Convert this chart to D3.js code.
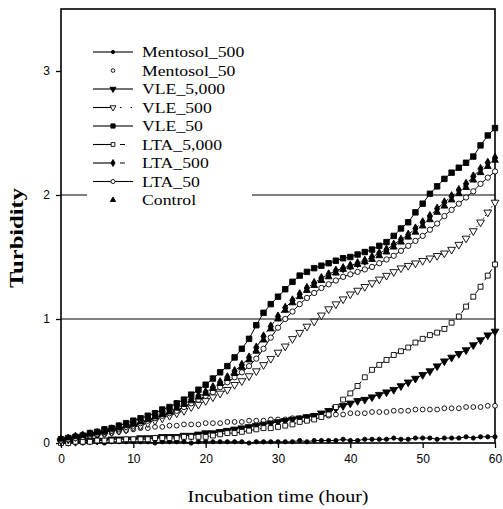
<!DOCTYPE html>
<html>
<head>
<meta charset="utf-8">
<script src="https://cdn.jsdelivr.net/npm/d3@7"></script>
<style>
  body { margin: 0; background: #fff; }
  svg { display: block; }
</style>
</head>
<body>
<svg width="503" height="509"></svg>
<script>
// incubation time, hours (one reading per hour)
var hours = d3.range(0, 61);

// turbidity readings
var mentosol500 = [
  0.00,0.01,0.01,0.00,0.01,0.01,0.00,0.01,0.01,0.01,0.01,
  0.01,0.01,0.00,0.01,0.01,0.01,0.01,0.00,0.01,0.01,
  0.01,0.01,0.01,0.01,0.01,0.00,0.01,0.01,0.01,0.01,
  0.01,0.01,0.02,0.01,0.02,0.02,0.02,0.02,0.03,0.02,
  0.02,0.03,0.03,0.03,0.03,0.04,0.03,0.03,0.04,0.04,
  0.04,0.03,0.04,0.04,0.04,0.05,0.04,0.05,0.05,0.05];
var mentosol50 = [
  0.02,0.03,0.04,0.05,0.05,0.06,0.07,0.08,0.09,0.10,0.11,
  0.12,0.12,0.13,0.13,0.14,0.14,0.15,0.15,0.15,0.16,
  0.16,0.16,0.17,0.17,0.17,0.18,0.18,0.18,0.19,0.19,
  0.19,0.20,0.20,0.21,0.21,0.22,0.22,0.23,0.23,0.24,
  0.24,0.24,0.25,0.25,0.25,0.26,0.26,0.26,0.27,0.27,
  0.27,0.27,0.28,0.28,0.28,0.29,0.29,0.29,0.30,0.30];
var vle5000 = [
  0.01,0.01,0.01,0.02,0.02,0.02,0.02,0.03,0.03,0.03,0.03,
  0.04,0.04,0.04,0.05,0.05,0.05,0.06,0.06,0.07,0.08,
  0.08,0.09,0.10,0.11,0.12,0.13,0.14,0.15,0.16,0.17,
  0.18,0.19,0.20,0.21,0.22,0.24,0.26,0.28,0.30,0.32,
  0.34,0.35,0.37,0.39,0.41,0.43,0.46,0.49,0.52,0.55,
  0.58,0.62,0.66,0.69,0.72,0.75,0.79,0.83,0.87,0.90];
var vle500 = [
  0.02,0.03,0.04,0.05,0.06,0.07,0.08,0.09,0.10,0.11,0.13,
  0.14,0.16,0.18,0.20,0.22,0.24,0.26,0.29,0.31,0.34,
  0.37,0.40,0.43,0.47,0.50,0.54,0.58,0.63,0.68,0.73,
  0.78,0.84,0.89,0.94,0.98,1.03,1.08,1.12,1.16,1.20,
  1.23,1.26,1.29,1.32,1.35,1.38,1.41,1.43,1.45,1.47,
  1.49,1.51,1.53,1.56,1.60,1.65,1.71,1.78,1.86,1.94];
var vle50 = [
  0.03,0.04,0.05,0.06,0.08,0.09,0.11,0.12,0.14,0.16,0.18,
  0.20,0.22,0.24,0.27,0.29,0.32,0.35,0.39,0.43,0.47,
  0.52,0.57,0.62,0.69,0.76,0.84,0.95,1.05,1.12,1.18,
  1.24,1.30,1.35,1.38,1.41,1.43,1.45,1.47,1.49,1.50,
  1.52,1.54,1.56,1.59,1.62,1.67,1.73,1.78,1.86,1.93,
  2.01,2.07,2.13,2.18,2.22,2.26,2.31,2.40,2.48,2.54];
var lta5000 = [
  0.00,0.00,0.01,0.01,0.01,0.02,0.02,0.02,0.02,0.03,0.03,
  0.03,0.03,0.04,0.04,0.04,0.04,0.05,0.05,0.05,0.05,
  0.06,0.07,0.08,0.08,0.09,0.10,0.11,0.12,0.12,0.13,
  0.14,0.15,0.17,0.18,0.19,0.21,0.23,0.29,0.35,0.40,
  0.46,0.53,0.59,0.63,0.67,0.71,0.74,0.77,0.81,0.84,
  0.87,0.89,0.92,0.97,1.02,1.10,1.18,1.26,1.35,1.44];
var lta500 = [
  0.02,0.03,0.05,0.06,0.07,0.08,0.10,0.11,0.13,0.14,0.16,
  0.18,0.20,0.22,0.24,0.26,0.29,0.32,0.35,0.38,0.41,
  0.45,0.49,0.53,0.58,0.63,0.69,0.77,0.86,0.94,1.02,
  1.09,1.15,1.20,1.25,1.29,1.33,1.36,1.39,1.41,1.43,
  1.45,1.47,1.50,1.53,1.56,1.60,1.64,1.68,1.73,1.78,
  1.83,1.89,1.94,1.99,2.04,2.09,2.15,2.21,2.26,2.30];
var lta50 = [
  0.02,0.03,0.04,0.05,0.06,0.07,0.09,0.10,0.11,0.13,0.14,
  0.16,0.18,0.20,0.22,0.24,0.26,0.29,0.32,0.35,0.38,
  0.41,0.45,0.49,0.53,0.57,0.62,0.68,0.76,0.85,0.93,
  1.00,1.06,1.12,1.17,1.21,1.25,1.28,1.31,1.34,1.36,
  1.38,1.40,1.42,1.45,1.48,1.51,1.55,1.59,1.63,1.67,
  1.72,1.77,1.83,1.88,1.93,1.98,2.03,2.09,2.14,2.19];
var control = [
  0.03,0.04,0.05,0.06,0.07,0.08,0.09,0.11,0.12,0.14,0.15,
  0.17,0.19,0.21,0.23,0.25,0.28,0.31,0.34,0.37,0.40,
  0.44,0.48,0.52,0.56,0.61,0.67,0.74,0.83,0.92,1.00,
  1.07,1.13,1.18,1.23,1.27,1.31,1.34,1.37,1.40,1.42,
  1.44,1.46,1.48,1.51,1.54,1.58,1.62,1.66,1.70,1.75,
  1.80,1.86,1.91,1.96,2.01,2.06,2.12,2.18,2.23,2.28];

var seriesNames = ['Mentosol_500', 'Mentosol_50', 'VLE_5,000', 'VLE_500', 'VLE_50',
                   'LTA_5,000', 'LTA_500', 'LTA_50', 'Control'];
var seriesValues = [mentosol500, mentosol50, vle5000, vle500, vle50,
                    lta5000, lta500, lta50, control];
var xTicks = [0, 10, 20, 30, 40, 50, 60];
var yTicks = [0, 1, 2, 3];
var gridValues = [1, 2];

// drawing style per series: marker shape, filled or not, line dash (null = no line)
var styles = [
  { shape: d3.symbolCircle,   size: 14, fill: true,  line: '' },
  { shape: d3.symbolCircle,   size: 18, fill: false, line: null },
  { shape: d3.symbolTriangle, size: 26, fill: true,  line: '', flip: true },
  { shape: d3.symbolTriangle, size: 26, fill: false, line: '1.5,2', flip: true },
  { shape: d3.symbolSquare,   size: 30, fill: true,  line: '' },
  { shape: d3.symbolSquare,   size: 24, fill: false, line: '5,3' },
  { shape: d3.symbolDiamond,  size: 24, fill: true,  line: '5,3' },
  { shape: d3.symbolCircle,   size: 22, fill: false, line: '' },
  { shape: d3.symbolTriangle, size: 20, fill: true,  line: null }
];

var svg = d3.select('svg');
var x = d3.scaleLinear().domain([0, 60]).range([61, 495]);
var y = d3.scaleLinear().domain([0, 3.5]).range([443, 9]);

// gridlines
svg.selectAll('line.grid')
  .data(gridValues)
  .enter().append('line')
  .attr('class', 'grid')
  .attr('x1', x(0)).attr('x2', x(60))
  .attr('y1', d => y(d)).attr('y2', d => y(d))
  .attr('stroke', '#000').attr('stroke-width', 1.2);

// axes
var yAxis = svg.append('g')
  .attr('transform', 'translate(' + x(0) + ',0)')
  .call(d3.axisLeft(y).tickValues(yTicks).tickSize(5).tickPadding(6).tickFormat(d3.format('d')));
var xAxis = svg.append('g')
  .attr('transform', 'translate(0,' + y(0) + ')')
  .call(d3.axisBottom(x).tickValues(xTicks).tickSize(5).tickPadding(6).tickFormat(d3.format('d')));
[yAxis, xAxis].forEach(function(g) {
  g.select('.domain').remove();
  g.selectAll('line').attr('stroke-width', 1.3);
  g.selectAll('text')
    .attr('font-family', 'Liberation Sans, Arial, sans-serif')
    .attr('font-size', 12)
    .attr('fill', '#000');
});

// plot frame
svg.append('rect')
  .attr('x', x(0)).attr('y', y(3.5))
  .attr('width', x(60) - x(0)).attr('height', y(0) - y(3.5))
  .attr('fill', 'none').attr('stroke', '#000').attr('stroke-width', 1.6);

var line = d3.line()
  .x((d, i) => x(hours[i]))
  .y(d => y(d));

function markerPath(st, k) {
  return d3.symbol().type(st.shape).size(st.size * (k || 1))();
}

var series = svg.selectAll('g.series')
  .data(seriesValues)
  .enter().append('g')
  .attr('class', 'series');

series.each(function(vals, si) {
  var st = styles[si];
  var g = d3.select(this);
  if (st.line !== null) {
    g.append('path')
      .attr('d', line(vals))
      .attr('fill', 'none')
      .attr('stroke', '#000')
      .attr('stroke-width', 1)
      .attr('stroke-dasharray', st.line || null);
  }
  g.selectAll('path.pt')
    .data(vals)
    .enter().append('path')
    .attr('class', 'pt')
    .attr('d', markerPath(st))
    .attr('transform', (d, i) => 'translate(' + x(hours[i]) + ',' + y(d) + ')' + (st.flip ? ' rotate(180)' : ''))
    .attr('fill', st.fill ? '#000' : '#fff')
    .attr('stroke', '#000')
    .attr('stroke-width', 0.9);
});

// legend
var legend = svg.append('g');
legend.append('rect')
  .attr('x', 87).attr('y', 40).attr('width', 165).attr('height', 172)
  .attr('fill', '#fff');
var rowY = d3.scaleLinear().domain([0, 8]).range([52, 200]);
var items = legend.selectAll('g.item')
  .data(seriesNames)
  .enter().append('g')
  .attr('class', 'item')
  .attr('transform', (d, i) => 'translate(0,' + rowY(i) + ')');
items.each(function(name, i) {
  var st = styles[i];
  var g = d3.select(this);
  if (st.line !== null) {
    // solid lead-in, then the series' own dash to the right of the marker
    g.append('line')
      .attr('x1', 93).attr('x2', 113)
      .attr('stroke', '#000').attr('stroke-width', 1.1);
    g.append('line')
      .attr('x1', 113).attr('x2', 133)
      .attr('stroke', '#000').attr('stroke-width', 1.1)
      .attr('stroke-dasharray', st.line ? (st.line === '5,3' ? '0,7,5,20' : '0,7,1.5,2') : null);
  }
  g.append('path')
    .attr('d', markerPath(st, 0.6))
    .attr('transform', 'translate(113,0)' + (st.flip ? ' rotate(180)' : ''))
    .attr('fill', st.fill ? '#000' : '#fff')
    .attr('stroke', '#000')
    .attr('stroke-width', 0.9);
});
items.append('text')
  .attr('x', 142).attr('y', 5)
  .attr('font-family', 'Liberation Serif, Times New Roman, serif')
  .attr('font-size', 15)
  .text(d => d)
  .each(function() {
    var w = this.getComputedTextLength();
    d3.select(this).attr('textLength', w * 1.18).attr('lengthAdjust', 'spacingAndGlyphs');
  });

// axis titles
svg.append('text')
  .attr('x', 278).attr('y', 502)
  .attr('text-anchor', 'middle')
  .attr('font-family', 'Liberation Serif, Times New Roman, serif')
  .attr('font-size', 16)
  .attr('textLength', 181).attr('lengthAdjust', 'spacingAndGlyphs')
  .text('Incubation time (hour)');
svg.append('text')
  .attr('transform', 'translate(23,238) rotate(-90)')
  .attr('text-anchor', 'middle')
  .attr('font-family', 'Liberation Serif, Times New Roman, serif')
  .attr('font-weight', 'bold')
  .attr('font-size', 18)
  .attr('textLength', 100).attr('lengthAdjust', 'spacingAndGlyphs')
  .text('Turbidity');
</script>
</body>
</html>
